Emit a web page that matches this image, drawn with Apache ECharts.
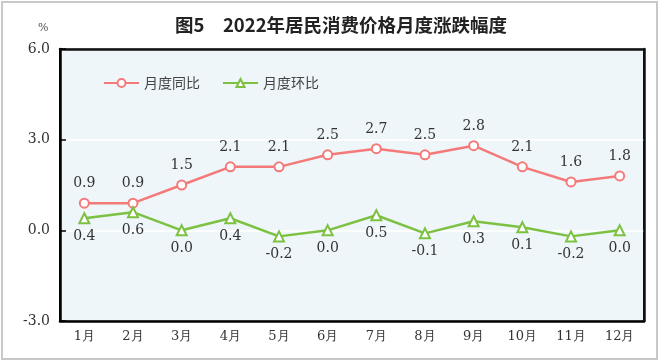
<!DOCTYPE html>
<html>
<head>
<meta charset="utf-8">
<script src="https://cdn.jsdelivr.net/npm/echarts@6/dist/echarts.min.js"></script>
<style>html,body{margin:0;padding:0;background:#fff}#c{width:660px;height:362px}</style>
</head>
<body>
<div id="c"></div>
<script>
var categories = ['1月','2月','3月','4月','5月','6月','7月','8月','9月','10月','11月','12月'];
var yoy = [0.9,0.9,1.5,2.1,2.1,2.5,2.7,2.5,2.8,2.1,1.6,1.8];
var mom = [0.4,0.6,0.0,0.4,-0.2,0.0,0.5,-0.1,0.3,0.1,-0.2,0.0];
var yTicks = {min:-3, max:6, interval:3};
var serif = '"DejaVu Serif"';
var chart = echarts.init(document.getElementById('c'));
chart.setOption({
  animation:false,
  backgroundColor:'#fff',
  title:{text:'图5　2022年居民消费价格月度涨跌幅度',left:170,top:11,
    textStyle:{fontFamily:'"Noto Sans CJK SC"',fontSize:18.5,fontWeight:'bold',color:'#222'}},
  graphic:[
    {type:'rect',shape:{x:2,y:2,width:655,height:357},style:{fill:'none',stroke:'#c8c8c8',lineWidth:2},z:-1},
    {type:'text',left:38,top:23,style:{text:'%',fontFamily:serif,fontSize:11,fill:'#555'}}
  ],
  legend:{left:98,top:71,itemWidth:35,itemHeight:10,itemGap:22,
    textStyle:{fontFamily:'"Noto Sans CJK SC"',fontSize:14,color:'#444'},
    data:['月度同比','月度环比']},
  grid:{left:60,right:16,top:49,bottom:41,show:true,backgroundColor:'#EEF6FA',borderColor:'#111',borderWidth:2},
  xAxis:[{type:'category',data:categories,boundaryGap:true,
    axisLine:{onZero:false,lineStyle:{color:'#000',width:2.5}},
    axisTick:{inside:true,length:5,lineStyle:{color:'#000',width:1.5}},
    axisLabel:{fontFamily:serif,fontSize:13,color:'#333',margin:9}},
    {type:'category',data:categories,position:'top',
    axisLine:{show:true,onZero:false,lineStyle:{color:'#111',width:2.5}},axisTick:{show:false},axisLabel:{show:false}}],
  yAxis:[{type:'value',min:yTicks.min,max:yTicks.max,interval:yTicks.interval,
    axisLine:{show:true,onZero:false,lineStyle:{color:'#000',width:2.5}},
    axisTick:{show:true,inside:true,length:6,lineStyle:{color:'#000',width:1.5}},
    splitLine:{show:true,lineStyle:{color:'#fff',width:1.5}},
    axisLabel:{fontFamily:serif,fontSize:14,color:'#333',margin:10,formatter:function(v){return v.toFixed(1);}}},
    {type:'value',min:yTicks.min,max:yTicks.max,interval:yTicks.interval,position:'right',
    axisLine:{show:true,onZero:false,lineStyle:{color:'#111',width:2.5}},axisTick:{show:false},axisLabel:{show:false},splitLine:{show:false}}],
  series:[
    {name:'月度同比',type:'line',data:yoy,symbol:'circle',symbolSize:9,
      lineStyle:{color:'#F47A7A',width:2.5},
      itemStyle:{color:'#fff',borderColor:'#F47A7A',borderWidth:2},
      label:{show:true,position:'top',distance:7,fontFamily:serif,fontSize:14,color:'#333',
        formatter:function(p){return p.value.toFixed(1);}}},
    {name:'月度环比',type:'line',data:mom,symbol:'triangle',symbolSize:10,
      lineStyle:{color:'#7DC142',width:2.5},
      itemStyle:{color:'#fff',borderColor:'#7DC142',borderWidth:2},
      label:{show:true,position:'bottom',distance:5,fontFamily:serif,fontSize:14,color:'#333',
        formatter:function(p){return p.value.toFixed(1);}}}
  ]
});
</script>
</body>
</html>
